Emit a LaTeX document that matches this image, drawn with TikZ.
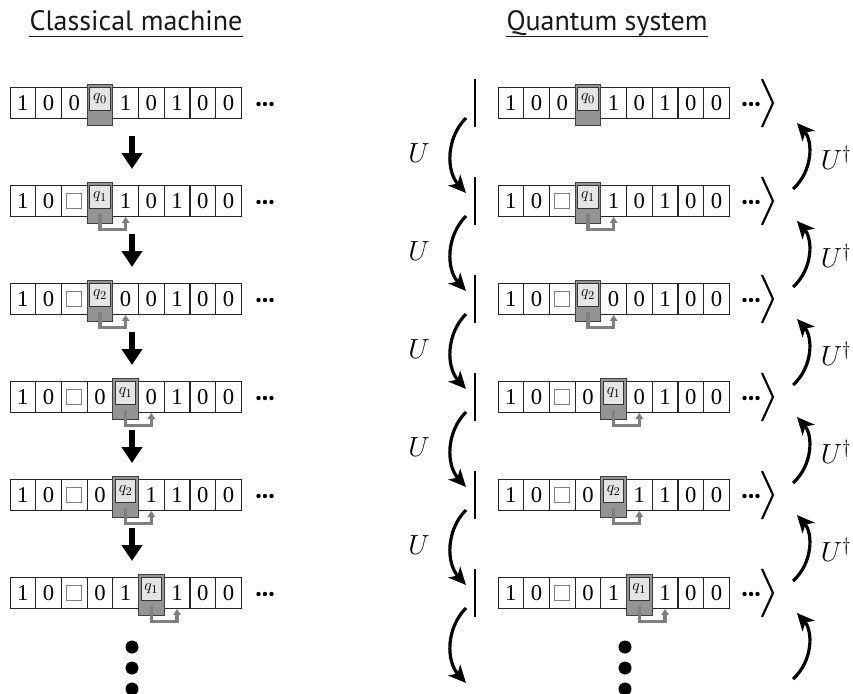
\documentclass[tikz,border=0pt]{standalone}
\usepackage{fontspec}
\setmainfont{Liberation Serif}
\setsansfont{PT Sans}
\usetikzlibrary{arrows.meta,calc}

\newcommand{\blanksq}{{\color{black!50}\setlength{\fboxrule}{0.6pt}\setlength{\fboxsep}{0pt}\fbox{\rule{0pt}{10.5pt}\hspace{10.5pt}}}}

\tikzset{
  tapecell/.style={draw=black!85, line width=0.6pt, minimum width=19.3pt, minimum height=23.25pt, inner sep=0pt, font=\fontsize{17}{17}\selectfont},
  headbox/.style={draw=black!75, fill=black!42, line width=0.6pt, minimum width=19.3pt, minimum height=30.4pt, inner sep=0pt},
  statebox/.style={draw=black!80, fill=black!10, line width=0.5pt, minimum width=15.2pt, minimum height=16.9pt, inner sep=0pt, font=\fontsize{13}{13}\selectfont},
  movearrow/.style={draw=black!50, line width=2.4pt, -{Triangle[length=4.5pt,width=5.5pt]}},
  downarrow/.style={line width=3.8pt, -{Triangle[length=12pt,width=15pt]}},
  evolve/.style={line width=2.4pt, -{Stealth[length=13pt,width=12pt,inset=3.5pt]}},
  ketline/.style={line width=1.6pt},
  title/.style={font=\sffamily\fontsize{21}{21}\selectfont, text=black!90, inner sep=0pt, anchor=base},
  oplabel/.style={font=\fontsize{22}{22}\selectfont}
}

\begin{document}
\begin{tikzpicture}[x=0.75pt,y=0.75pt,yscale=-1,xscale=1]
\useasboundingbox (0,0) rectangle (853,693);

% Titles
\node[title] (tcl) at (136,30) {Classical machine};
\node[title] (tqu) at (607,30) {Quantum system};
\draw[line width=0.7pt, black!90] ($(tcl.base west)+(0,6)$) -- ($(tcl.base east)+(0,6)$);
\draw[line width=0.7pt, black!90] ($(tqu.base west)+(0,6)$) -- ($(tqu.base east)+(0,6)$);

% Tapes, heads and moves
\foreach \r/\hd/\q/\syms [count=\k] in {
    103/3/0/{1,0,0,,1,0,1,0,0},
    201/3/1/{1,0,\blanksq,,1,0,1,0,0},
    299/3/2/{1,0,\blanksq,,0,0,1,0,0},
    397/4/1/{1,0,\blanksq,0,,0,1,0,0},
    495/4/2/{1,0,\blanksq,0,,1,1,0,0},
    593/5/1/{1,0,\blanksq,0,1,,1,0,0}}{
  \pgfmathtruncatemacro{\nx}{\hd+1}
  \foreach \sd/\xo in {cl/10, qu/498}{
    \foreach \s [count=\i from 0] in \syms
      \node[tapecell] (\sd-\k-\i) at (\xo+12.85+25.7*\i,\r) {\s};
    \node[headbox] (\sd-h\k) at (\xo+12.85+25.7*\hd,\r+1.75) {};
    \node[statebox] (\sd-q\k) at (\xo+12.85+25.7*\hd,\r-4.25) {$q_{\q}$};
    \ifnum\k>1
      \draw[movearrow] ($(\sd-q\k.south)+(0,6)$) -- ++(0,15) -| (\sd-\k-\nx.south);
    \fi
  }
  % dots after each tape
  \foreach \d in {-6.5,0,6.5}{
    \fill (265+\d,\r+1) circle (2.2);
    \fill (751+\d,\r+1) circle (2.2);
  }
  % ket brackets
  \draw[ketline] (475,\r-24) -- (475,\r+24);
  \draw[ketline] (762,\r-24) -- (773,\r) -- (762,\r+24);
  % U and U dagger
  \draw[evolve] (466,\r+15) .. controls (446,\r+35) and (446,\r+68) .. (466,\r+90);
  \draw[evolve] (793,\r+86) .. controls (813,\r+68) and (813,\r+38) .. (797,\r+20);
  \ifnum\k<6
    \node[oplabel] (u\k) at (419,\r+50) {$U$};
    \node[oplabel] (ud\k) at (836,\r+55) {$U^{\dagger}$};
    \draw[downarrow] (132,\r+33) -- (132,\r+66);
  \fi
}

% vertical dots
\foreach \y in {647,668,689}{
  \fill (132,\y) circle (6.5);
  \fill (625,\y) circle (6.5);
}

\end{tikzpicture}
\end{document}
